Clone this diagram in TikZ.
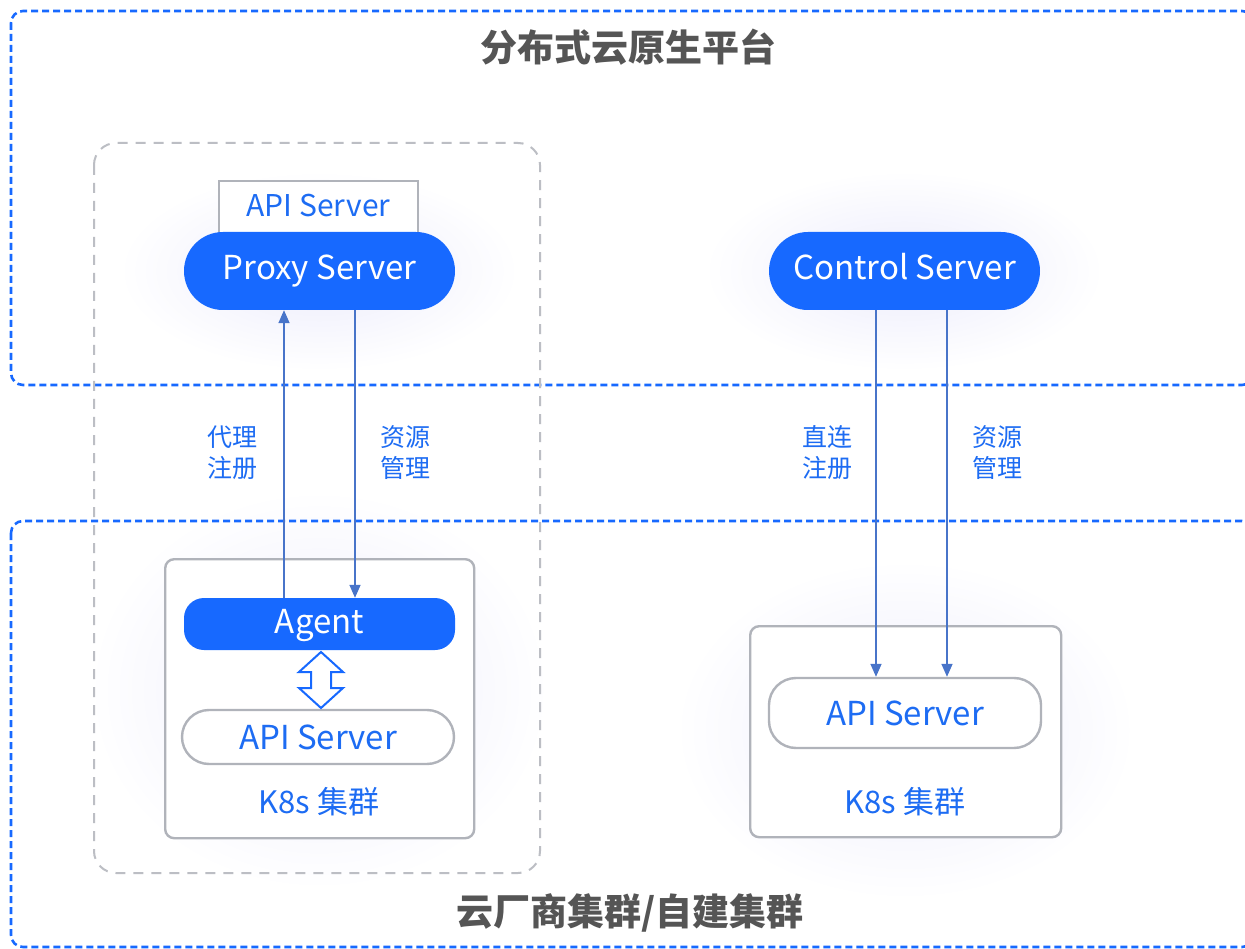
\documentclass[tikz,border=0pt]{standalone}
\usepackage{fontspec}
\setmainfont{Noto Sans CJK SC}
\usetikzlibrary{arrows.meta}
\definecolor{brandblue}{RGB}{23,105,255}
\definecolor{txtblue}{RGB}{29,108,243}
\definecolor{linkblue}{RGB}{72,116,201}
\definecolor{framegray}{RGB}{176,179,186}
\definecolor{titlegray}{RGB}{85,85,85}
\definecolor{glow}{RGB}{236,236,252}
\tikzset{
  zone/.style={draw=brandblue, line width=2.6pt, dash pattern=on 7pt off 4pt, rounded corners=12pt},
  groupbox/.style={draw=framegray!85, line width=2pt, dash pattern=on 10pt off 8pt, rounded corners=22pt},
  pillblue/.style={fill=brandblue, text=white, minimum width=271pt, minimum height=78pt, rounded corners=39pt, font=\fontsize{33}{33}\selectfont, inner sep=0pt, text height=18pt, text depth=0pt},
  agentbox/.style={fill=brandblue, text=white, minimum width=271pt, minimum height=52pt, rounded corners=20pt, font=\fontsize{33}{33}\selectfont, inner sep=0pt, text height=18pt, text depth=0pt},
  pillgray/.style={draw=framegray, line width=2.4pt, fill=white, text=txtblue, rounded corners=27pt, inner sep=0pt},
  cluster/.style={draw=framegray, line width=2.4pt, fill=white, rounded corners=9pt, inner sep=0pt},
  bluetxt/.style={text=txtblue, inner sep=0pt},
  linklabel/.style={text=txtblue, align=center, inner sep=0pt, font=\fontsize{25}{31}\selectfont},
  heading/.style={text=titlegray, inner sep=0pt, font=\fontsize{37}{37}\selectfont\bfseries},
  link/.style={draw=linkblue, line width=1.6pt, -{Triangle[length=13pt,width=11pt]}},
}
\begin{document}
\begin{tikzpicture}[x=1pt,y=-1pt]
\useasboundingbox (0,0) rectangle (1245,949);
\fill[white] (0,0) rectangle (1245,949);

% soft halo behind the servers and clusters
\foreach \cx/\cy/\rx/\ry in {319/271/200/100, 904/271/200/100, 319/690/230/200, 905/730/230/170}{
  \shade[inner color=glow, outer color=white] (\cx,\cy) ellipse [x radius=\rx, y radius=\ry];
}

% platform and cluster zones
\draw[zone] (11,11) rectangle (1254,385);
\draw[zone] (11,521) rectangle (1254,947);
\node[heading] (platform) at (628,47) {分布式云原生平台};
\node[heading] (clusters) at (630,913) {云厂商集群/自建集群};

% proxy group
\draw[groupbox] (94,143) rectangle (540,873);

% left cluster
\node[cluster, minimum width=309pt, minimum height=279pt, anchor=north west] (k8sleft) at (164,558) {};
\node[bluetxt, font=\fontsize{31}{31}\selectfont] (k8slefttxt) at (319,802) {K8s 集群};

% right cluster
\node[cluster, minimum width=311pt, minimum height=211pt, anchor=north west] (k8sright) at (749,625) {};
\node[bluetxt, font=\fontsize{31}{31}\selectfont] (k8srighttxt) at (905,802) {K8s 集群};

% proxy side servers
\node[draw=framegray, line width=2pt, fill=white, minimum width=199pt, minimum height=70pt, anchor=north, inner sep=0pt] (apitop) at (318.5,180) {};
\node[bluetxt, font=\fontsize{30}{30}\selectfont] (apitoptxt) at (318.5,206) {API Server};
\node[pillblue] (proxy) at (319.5,271) {Proxy Server};
\node[pillblue] (control) at (904.5,271) {Control Server};

% agent and in-cluster API servers
\node[agentbox] (agent) at (319.5,624) {Agent};
\node[pillgray, minimum width=272pt, minimum height=54pt, font=\fontsize{33}{33}\selectfont] (apileft) at (318,737) {API Server};
\node[pillgray, minimum width=272pt, minimum height=70pt, font=\fontsize{33}{33}\selectfont] (apiright) at (905,713) {API Server};

% hollow double arrow between agent and API server
\coordinate (dtop) at (321,652);
\coordinate (dbot) at (321,708);
\draw[draw=brandblue, line width=2pt, fill=white, line join=miter]
  (dtop) -- ++(22,20) -- ++(-12,0) -- ++(0,16) -- ++(12,0) -- (dbot)
  -- ++(-22,-20) -- ++(12,0) -- ++(0,-16) -- ++(-12,0) -- cycle;

% registration and management links
\draw[link] (agent.north -| 284,0) -- (proxy.south -| 284,0);
\draw[link] (proxy.south -| 355,0) -- (agent.north -| 355,0);
\draw[link] (control.south -| 876,0) -- (apiright.north -| 876,0);
\draw[link] (control.south -| 947,0) -- (apiright.north -| 947,0);

\node[linklabel] (lblproxyreg) at (232,453) {代理\\注册};
\node[linklabel] (lblproxymgmt) at (405,453) {资源\\管理};
\node[linklabel] (lbldirectreg) at (827,453) {直连\\注册};
\node[linklabel] (lbldirectmgmt) at (997,453) {资源\\管理};
\end{tikzpicture}
\end{document}
